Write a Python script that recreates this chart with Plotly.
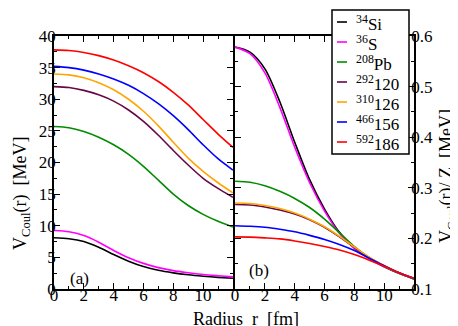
import plotly.graph_objects as go

# radius grid (fm)
r = [0, 1, 2, 3, 4, 5, 6, 7, 8, 9, 10, 11, 12]

names = ["<sup>34</sup>Si", "<sup>36</sup>S", "<sup>208</sup>Pb", "<sup>292</sup>120",
         "<sup>310</sup>126", "<sup>466</sup>156", "<sup>592</sup>186"]
colors = ["#000000", "#ff00ff", "#008b00", "#670748", "#ffa500", "#0000ff", "#ff0000"]

# panel (a): V_Coul(r) in MeV
v_si = [8.1, 7.95, 7.5, 6.6, 5.45, 4.4, 3.55, 2.95, 2.55, 2.25, 2.02, 1.84, 1.69]
v_s = [9.25, 9.05, 8.45, 7.4, 6.1, 4.95, 4.05, 3.38, 2.9, 2.57, 2.3, 2.1, 1.92]
v_pb = [25.7, 25.5, 24.9, 24.0, 22.8, 21.3, 19.4, 17.2, 15.0, 13.2, 11.8, 10.7, 9.8]
v_120 = [32.0, 31.85, 31.4, 30.7, 29.7, 28.3, 26.5, 24.3, 21.9, 19.6, 17.5, 15.9, 14.5]
v_126 = [34.0, 33.85, 33.4, 32.6, 31.5, 30.0, 28.1, 25.8, 23.2, 20.7, 18.6, 16.8, 15.2]
v_156 = [35.2, 35.0, 34.6, 34.0, 33.2, 32.2, 30.9, 29.3, 27.4, 25.2, 22.8, 20.6, 18.8]
v_186 = [37.8, 37.7, 37.4, 36.9, 36.2, 35.3, 34.2, 32.8, 31.1, 29.1, 26.8, 24.5, 22.4]

# panel (b): V_Coul(r)/Z in MeV
w_si = [0.578, 0.568, 0.535, 0.47, 0.39, 0.316, 0.258, 0.212, 0.182, 0.16, 0.144, 0.131, 0.12]
w_s = [0.578, 0.565, 0.527, 0.459, 0.38, 0.31, 0.254, 0.21, 0.18, 0.16, 0.144, 0.131, 0.12]
w_pb = [0.313, 0.311, 0.304, 0.293, 0.279, 0.261, 0.238, 0.211, 0.184, 0.162, 0.145, 0.131, 0.12]
w_120 = [0.267, 0.266, 0.262, 0.256, 0.248, 0.237, 0.222, 0.203, 0.182, 0.162, 0.146, 0.132, 0.121]
w_126 = [0.270, 0.269, 0.265, 0.259, 0.25, 0.238, 0.223, 0.204, 0.183, 0.163, 0.146, 0.132, 0.121]
w_156 = [0.225, 0.224, 0.222, 0.218, 0.213, 0.206, 0.198, 0.188, 0.176, 0.161, 0.146, 0.132, 0.121]
w_186 = [0.203, 0.2025, 0.201, 0.199, 0.195, 0.19, 0.184, 0.177, 0.168, 0.157, 0.145, 0.132, 0.121]

x_ticks = [0, 2, 4, 6, 8, 10]

left_sets = [v_si, v_s, v_pb, v_120, v_126, v_156, v_186]
right_sets = [w_si, w_s, w_pb, w_120, w_126, w_156, w_186]

FONT = "Liberation Serif"

fig = go.Figure()
for vals, c in zip(left_sets, colors):
    fig.add_trace(go.Scatter(x=r, y=vals, mode="lines",
                             line=dict(color=c, width=1.6, shape="spline", smoothing=0.8),
                             xaxis="x", yaxis="y", showlegend=False))
for vals, c in zip(right_sets, colors):
    fig.add_trace(go.Scatter(x=r, y=vals, mode="lines",
                             line=dict(color=c, width=1.6, shape="spline", smoothing=0.8),
                             xaxis="x2", yaxis="y2", showlegend=False))

ax = dict(showline=True, linecolor="black", linewidth=1.8, mirror="ticks", ticks="inside",
          ticklen=6, tickwidth=1.3, tickcolor="black", showgrid=False, zeroline=False,
          tickfont=dict(family=FONT, size=17, color="black"))

fig.update_layout(
    width=458, height=326,
    margin=dict(l=46, r=52, t=28, b=45),
    paper_bgcolor="white", plot_bgcolor="white",
    font=dict(family=FONT, color="black"),
    xaxis=dict(ax, domain=[0, 0.497], range=[0, 12], tickmode="array", tickvals=x_ticks,
               ticklabelstandoff=-10,
               minor=dict(dtick=1, ticklen=3, ticks="inside", tickcolor="black"), anchor="y"),
    xaxis2=dict(ax, domain=[0.503, 1], range=[0, 12], tickmode="array", tickvals=x_ticks,
                ticklabelstandoff=-10,
                minor=dict(dtick=1, ticklen=3, ticks="inside", tickcolor="black"), anchor="y2"),
    yaxis=dict(ax, range=[0, 40], dtick=5, anchor="x", ticklabelstandoff=-7,
               minor=dict(dtick=2.5, ticklen=3, ticks="inside", tickcolor="black")),
    yaxis2=dict(ax, range=[0.1, 0.6], dtick=0.1, anchor="x2", side="right", ticklabelstandoff=-8,
                minor=dict(dtick=0.05, ticklen=3, ticks="inside", tickcolor="black")),
)

annos = [
    dict(text="Radius  r  [fm]", x=(238 - 46) / 360, y=(281 - 311) / 253, font=dict(size=18)),
    dict(text="V<sub>Coul</sub>(r)  [MeV]", x=(13 - 46) / 360, y=(281 - 186) / 253,
         textangle=-90, font=dict(size=18)),
    dict(text="V<sub>Coul</sub>(r)/ Z  [MeV]", x=(439 - 46) / 360, y=(281 - 168) / 253,
         textangle=-90, font=dict(size=18)),
    dict(text="(a)", x=(71 - 46) / 360, y=(281 - 270) / 253, font=dict(size=17)),
    dict(text="(b)", x=(251 - 46) / 360, y=(281 - 262) / 253, font=dict(size=17)),
]
for a in annos:
    fig.add_annotation(xref="paper", yref="paper", showarrow=False, xanchor="center",
                       yanchor="middle", **a)

# hand-made legend box (short line samples like the original)
def px(xp):
    return (xp - 46) / 360


def py(yp):
    return (281 - yp) / 253


fig.add_shape(type="rect", xref="paper", yref="paper", x0=px(324), x1=px(401), y0=py(146), y1=py(2),
              fillcolor="white", line=dict(color="black", width=1.5), layer="above")
for i, (n, c) in enumerate(zip(names, colors)):
    yl = 14 + 20 * i
    fig.add_shape(type="line", xref="paper", yref="paper", x0=px(329), x1=px(339), y0=py(yl), y1=py(yl),
                  line=dict(color=c, width=1.6), layer="above")
    fig.add_annotation(xref="paper", yref="paper", x=px(346), y=py(yl + 1), text=n, showarrow=False,
                       xanchor="left", yanchor="middle", font=dict(size=17))

fig.write_html("out.html")
